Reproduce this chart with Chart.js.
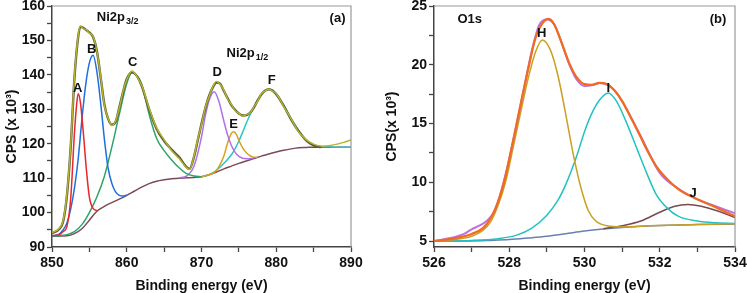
<!DOCTYPE html>
<html><head><meta charset="utf-8">
<script src="https://cdn.jsdelivr.net/npm/chart.js@4/dist/chart.umd.min.js"></script>
<style>
html,body{margin:0;padding:0;background:#fff;overflow:hidden;width:747px;height:293px}
canvas{position:absolute;top:0}
#ni{left:0}
#ox{left:380px}
</style></head><body>
<canvas id="ni" width="380" height="293"></canvas>
<canvas id="ox" width="380" height="293"></canvas>
<script>
// ---- Ni 2p panel (a) ----
const niRawE=[850,851,851.5,852,852.5,853,853.5,853.8,854.2,854.6,855,855.5,856,856.5,857,857.5,858,858.5,859,859.5,860,860.7,861.5,862,863,864,865,866,867,868,868.4,869,869.5,870,870.5,871,871.5,872,872.5,873,873.5,874,874.5,875,875.5,876,876.5,877,877.5,878,878.5,879,879.5,880,881,882,883,884,885,886,887,888,889,890];
const niRawY=[94.2,95.5,97.8,105.5,119.5,139.5,151.3,154.2,153.4,153.1,152.1,151.2,146.8,139.8,131.2,127.5,125.3,126.6,130.3,135.2,138.6,141.1,139.0,137.0,130.3,124.6,121.2,118.0,115.7,113.0,112.5,116.4,121.3,125.6,130.4,133.6,136.5,138.1,137.2,135.5,133.0,131.4,129.6,128.9,128.0,128.5,128.9,130.7,132.3,134.5,135.3,135.9,135.2,134.6,130.8,127.2,123.4,121.2,119.9,119.3,119.4,119.8,120.4,121.1];
const niFitE=[850,851,851.5,852,852.5,853,853.5,853.8,854.2,854.6,855,855.5,856,856.5,857,857.5,858,858.5,859,859.5,860,860.7,861.5,862,863,864,865,866,867,868,868.4,869,869.5,870,870.5,871,871.5,872,872.5,873,873.5,874,874.5,875,875.5,876,876.5,877,877.5,878,878.5,879,879.5,880,881,882,883,884,885,886];
const niFitY=[94,95.3,97.5,105,119,139,151,154,153.6,153,152.3,151,147,139.5,131.5,127.3,125.5,126.3,130.5,135,138.8,140.8,139.2,136.8,130,124.3,120.8,118.3,116.1,113.2,112.7,116.2,121,125.8,130.2,133.8,136.3,137.8,137.4,135.3,133.2,131.2,129.8,128.8,128.2,128.3,129,130.5,132.5,134.3,135.4,135.8,135.4,134.4,131,127,123.6,121,119.5,119];
const niBgE=[850,852,853,854,855,856,857,858,859,860,861,862,863,864,865,866,867,868,869,870,871,872,873,874,875,876,877,878,879,880,881,882,883,884,885,886,890];
const niBgY=[93.2,93.3,93.9,95.3,97.8,100.4,101.8,102.9,103.9,105,106.2,107.4,108.4,109.1,109.5,109.8,110,110.1,110.2,110.4,111,111.8,112.7,113.5,114.3,115,115.7,116.4,117,117.6,118.1,118.5,118.8,118.9,119,119,119];
const peakAE=[850,851,851.5,852,852.5,853,853.3,853.5,853.8,854.2,854.6,855,855.5,856];
const peakAY=[93.3,93.6,94.5,96,104,123,131.5,134.5,132,123,112.5,104.5,101.2,100.6];
const peakBE=[850,851,851.5,852,852.5,853,853.5,854,854.5,855,855.5,856,856.5,857,857.5,858,858.5,859,859.5,860];
const peakBY=[93.2,93.8,95,97,101,107,115.5,127,137,143.5,145.7,141,132,121.5,113,108.5,106,105,104.8,105.1];
const peakCE=[850,851,852,853,854,855,856,857,858,859,860,860.7,861.5,862,863,864,865,866,867,868,869,870];
const peakCY=[93.2,93.3,93.6,94.5,96.5,100,104.5,110.5,119,128.5,137.5,140.6,139.3,137.3,128.5,121.5,118,115.3,113,111.3,110.6,110.4];
const peakDE=[867,868,869,870,870.5,871,871.7,872.3,873,873.5,874,874.5,875,876,877];
const peakDY=[110.1,110.6,113.5,122,128,132.5,135.1,132.5,126.5,122.5,119.5,117.5,116.3,115.6,115.8];
const peakEE=[870,871,871.5,872,872.5,873,873.5,874,874.3,874.7,875,875.5,876,876.5,877,877.5];
const peakEY=[110.4,111,111.4,112.3,114,116.5,120.3,123,123.5,122.6,121,118.8,117.4,116.5,116.1,116.1];
const peakFE=[870,871,872,873,874,874.5,875,875.5,876,876.5,877,877.5,878,878.5,879.1,880,881,882,883,884,885,886,887,888,890];
const peakFY=[110.4,111,112.3,114.3,116.8,118.6,120.8,123.3,126,128.4,130.6,132.6,134.3,135.4,135.8,134.6,131.2,127.3,123.8,121,119.6,119.2,119.1,119,119];
const niXTicks=[850,855,860,865,870,875,880,885,890];
const niYTicks=[90,95,100,105,110,115,120,125,130,135,140,145,150,155,160];

// ---- O 1s panel (b) ----
const oRawE=[526,526.5,526.8,527,527.2,527.4,527.6,527.8,528,528.2,528.4,528.6,528.8,529,529.2,529.4,529.6,529.8,530,530.2,530.4,530.6,530.8,531,531.5,532,532.5,533,533.5,534];
const oRawY=[5.0,5.3,5.6,6.0,6.3,6.7,7.5,9.4,12.0,15.0,18.1,21.2,23.4,23.85,23.4,21.8,20.0,18.7,18.2,18.25,18.45,18.3,17.8,16.9,13.9,10.8,9.45,8.55,7.95,7.35];
const oFitE=[526,526.5,527,527.3,527.5,527.7,527.9,528.1,528.3,528.5,528.7,528.9,529.05,529.2,529.4,529.6,529.8,530,530.2,530.4,530.6,530.8,531,531.2,531.5,531.65,531.9,532.1,532.5,532.9,533.4,534];
const oFitY=[5.0,5.2,5.6,6.1,6.9,8.3,10.5,13.5,16.6,19.6,22.3,23.6,23.9,23.4,21.8,20.1,18.9,18.35,18.3,18.45,18.35,17.8,16.9,15.7,13.8,12.8,11.4,10.6,9.4,8.7,8.0,7.1];
const oBgE=[526,527,527.5,528,528.5,529,529.5,530,530.5,531,531.5,532,532.5,533,534];
const oBgY=[5.0,5.0,5.05,5.12,5.25,5.4,5.62,5.85,6.02,6.15,6.25,6.32,6.37,6.4,6.45];
const peakHE=[526,526.5,527,527.3,527.5,527.7,527.9,528.1,528.3,528.5,528.7,528.88,529.1,529.3,529.5,529.7,529.9,530.1,530.3,530.6,531,531.5,532,533,534];
const peakHY=[5.0,5.1,5.4,5.9,6.6,8.0,10.0,12.9,15.9,18.8,21.1,22.1,21.2,19.0,15.8,12.4,9.6,7.6,6.7,6.3,6.2,6.26,6.33,6.41,6.46];
const peakIE=[526,527,527.7,528.2,528.6,529,529.3,529.5,529.8,530,530.2,530.4,530.63,530.85,531.1,531.4,531.65,531.9,532.2,532.5,533,533.5,534];
const peakIY=[5.0,5.05,5.2,5.5,6.1,7.2,8.5,9.8,12.3,14.3,15.9,17.0,17.6,16.9,15.2,12.8,10.8,9.0,7.8,7.1,6.7,6.55,6.5];
const peakJE=[530.5,531,531.5,532,532.4,532.75,533.1,533.5,534];
const peakJY=[6.05,6.3,6.7,7.45,7.95,8.1,7.95,7.6,7.0];
const oXTicks=[526,527,528,529,530,531,532,533,534];
const oYTicks=[5,7.5,10,12.5,15,17.5,20,22.5,25];

const FONT='"Liberation Sans", Arial, sans-serif';
const pts=(xs,ys)=>xs.map((x,i)=>({x,y:ys[i]}));
const line=(label,xs,ys,color,w)=>({label,data:pts(xs,ys),borderColor:color,borderWidth:w||1.5,pointRadius:0,fill:false,cubicInterpolationMode:'monotone'});

// peak letters and panel captions, placed in data units
const txt={id:'txt',afterDatasetsDraw(c,a,opts){
  const {ctx,scales:{x,y}}=c;ctx.save();ctx.fillStyle='#111';ctx.textBaseline='middle';
  for(const t of opts.items){
    ctx.font=`bold ${t.size||13}px ${FONT}`;ctx.textAlign=t.sub?'left':'center';
    const px=x.getPixelForValue(t.x),py=y.getPixelForValue(t.y);
    ctx.fillText(t.text,px,py);
    if(t.sub){const w=ctx.measureText(t.text).width;ctx.font=`bold 9px ${FONT}`;ctx.fillText(t.sub,px+w+1,py+4);}
  }
  ctx.restore();
}};
const frame={id:'frame',afterDraw(c){
  const {ctx,chartArea:a}=c;ctx.save();ctx.strokeStyle='#9a9a9a';ctx.lineWidth=1.2;
  ctx.beginPath();ctx.moveTo(a.left,a.top);ctx.lineTo(a.right,a.top);ctx.lineTo(a.right,a.bottom);ctx.stroke();ctx.restore();
}};

function makeChart(id,datasets,cfg){
  const tickFont={family:FONT,size:14,weight:'bold'};
  return new Chart(document.getElementById(id),{type:'line',data:{datasets},plugins:[txt,frame],
    options:{responsive:false,animation:false,devicePixelRatio:1,
      layout:{padding:{left:0,top:6,right:cfg.padR,bottom:0}},
      plugins:{legend:{display:false},tooltip:{enabled:false},txt:{items:cfg.items}},
      scales:{
        x:{type:'linear',min:cfg.xr[0],max:cfg.xr[1],
          afterBuildTicks:s=>{s.ticks=cfg.xt.map(v=>({value:v}));},
          afterFit:s=>{s.height=46;s.paddingLeft=0;s.paddingRight=0;},
          ticks:{autoSkip:false,maxRotation:0,padding:3,color:'#111',font:tickFont,callback:v=>cfg.xLab(v)?String(v):''},
          grid:{drawOnChartArea:false,tickLength:5,tickColor:'#444',tickWidth:1.3},
          border:{color:'#444',width:1.5},
          title:{display:true,text:'Binding energy (eV)',color:'#111',font:{family:FONT,size:14,weight:'bold',lineHeight:1},padding:0}},
        y:{type:'linear',min:cfg.yr[0],max:cfg.yr[1],
          afterBuildTicks:s=>{s.ticks=cfg.yt.map(v=>({value:v}));},
          afterFit:s=>{s.width=cfg.yW;s.paddingTop=0;s.paddingBottom=0;},
          ticks:{autoSkip:false,padding:2,color:'#111',font:tickFont,callback:v=>cfg.yLab(v)?String(v):''},
          grid:{drawOnChartArea:false,tickLength:5,tickColor:'#444',tickWidth:1.3},
          border:{color:'#444',width:1.5},
          title:{display:true,text:cfg.yTitle,color:'#111',font:{family:FONT,size:14,weight:'bold',lineHeight:1},padding:{top:5,bottom:0}}}
      }}});
}

makeChart('ni',[
  line('Raw',niRawE,niRawY,'#b7b52a',1.4),
  line('Fit',niFitE,niFitY,'#5a5d3c',2.4),
  line('A',peakAE,peakAY,'#e8262e'),
  line('B',peakBE,peakBY,'#1f6fe0'),
  line('C',peakCE,peakCY,'#2ea36b'),
  line('D',peakDE,peakDY,'#b070e8'),
  line('E',peakEE,peakEY,'#d9a21e'),
  line('F',peakFE,peakFY,'#27c6cf'),
  line('Background',niBgE,niBgY,'#7b4a58')
],{xr:[850,890],yr:[90,160],xt:niXTicks,yt:niYTicks,xLab:v=>v%10===0,yLab:v=>v%10===0,
  yTitle:'CPS (x 10³)',yW:52,padR:29,
  items:[{text:'A',x:853.43,y:136.2},{text:'B',x:855.3,y:147.5},{text:'C',x:860.8,y:143.7},
    {text:'D',x:872.1,y:140.8},{text:'E',x:874.3,y:125.5},{text:'F',x:879.4,y:138.5},
    {text:'Ni2p',sub:'3/2',x:856,y:156.6},{text:'Ni2p',sub:'1/2',x:873.35,y:146.3},
    {text:'(a)',x:888.2,y:156.3}]});

makeChart('ox',[
  line('Fit',oFitE,oFitY,'#f06a20',2.2),
  line('Raw',oRawE,oRawY,'#c070e0',2),
  line('H',peakHE,peakHY,'#c9a020'),
  line('I',peakIE,peakIY,'#22c2c2'),
  line('J',peakJE,peakJY,'#7a4a50'),
  line('Background',oBgE,oBgY,'#6a80b0')
],{xr:[526,534],yr:[4.49,25],xt:oXTicks,yt:oYTicks,xLab:v=>v%2===0,yLab:v=>v%5===0,
  yTitle:'CPS(x 10³)',yW:54,padR:25,
  items:[{text:'H',x:528.86,y:22.68},{text:'I',x:530.63,y:18.0},{text:'J',x:532.89,y:9.08},
    {text:'O1s',x:526.95,y:23.9},{text:'(b)',x:533.55,y:23.9}]});
</script>
</body></html>
